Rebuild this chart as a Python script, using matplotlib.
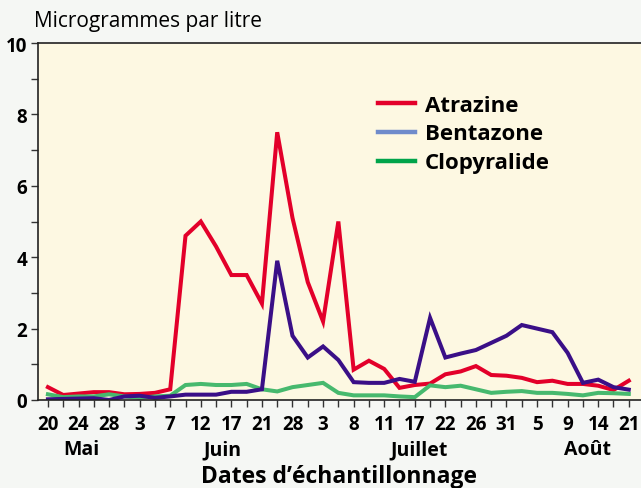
import numpy as np
import matplotlib
matplotlib.use("Agg")
import matplotlib.pyplot as plt

plt.rcParams['font.family'] = ['Open Sans', 'DejaVu Sans']

# sampling dates (one label every second sample)
day_labels = ['20', '24', '28', '3', '7', '12', '17', '21', '28', '3',
              '8', '11', '17', '22', '26', '31', '5', '9', '14', '21']
months = ['Mai', 'Juin', 'Juillet', 'Août']
month_pos = [2.2, 11.4, 24.3, 35.3]

atrazine = [0.36, 0.14, 0.18, 0.22, 0.22, 0.16, 0.17, 0.20, 0.30, 4.6,
            5.0, 4.3, 3.5, 3.5, 2.7, 7.5, 5.1, 3.3, 2.2, 5.0,
            0.85, 1.1, 0.87, 0.34, 0.42, 0.46, 0.72, 0.8, 0.95, 0.7,
            0.68, 0.62, 0.5, 0.54, 0.45, 0.45, 0.4, 0.28, 0.54]
bentazone = [0.02, 0.03, 0.04, 0.05, 0.0, 0.1, 0.12, 0.06, 0.1, 0.15,
             0.15, 0.15, 0.23, 0.23, 0.3, 3.9, 1.8, 1.19, 1.5, 1.12,
             0.5, 0.48, 0.48, 0.59, 0.51, 2.3, 1.19, 1.3, 1.4, 1.6,
             1.8, 2.1, 2.0, 1.9, 1.32, 0.48, 0.57, 0.36, 0.29]
clopyralide = [0.16, 0.08, 0.1, 0.1, 0.16, 0.1, 0.06, 0.1, 0.12, 0.42,
               0.45, 0.42, 0.42, 0.45, 0.3, 0.24, 0.36, 0.42, 0.48, 0.2,
               0.13, 0.13, 0.13, 0.1, 0.08, 0.41, 0.36, 0.4, 0.3, 0.2,
               0.23, 0.25, 0.2, 0.2, 0.17, 0.13, 0.2, 0.19, 0.17]

x = np.arange(len(atrazine))

fig = plt.figure(figsize=(6.41, 4.89), dpi=100, facecolor='#f5f7f4')
ax = fig.add_axes([38/641, 88/489, 603/641, 357/489])
ax.set_facecolor('#fdf8e2')

ax.plot(x, atrazine, color='#e3002a', lw=2.9, solid_joinstyle='miter')
ax.plot(x, clopyralide, color='#47b96e', lw=2.9, solid_joinstyle='miter')
ax.plot(x, bentazone, color='#3a0f87', lw=2.9, solid_joinstyle='miter')

ax.set_xlim(-0.65, 38.8)
ax.set_ylim(0, 10)

ax.spines['right'].set_visible(False)
for s in ['left', 'bottom', 'top']:
    ax.spines[s].set_linewidth(1.2)
    ax.spines[s].set_color('#222222')

ax.set_xticks(x[::2])
ax.set_xticklabels(day_labels, fontsize=13.5, fontweight='bold')
ax.set_xticks(x[1::2], minor=True)
ax.set_yticks([0, 2, 4, 6, 8, 10])
ax.set_yticklabels(['0', '2', '4', '6', '8', '10'], fontsize=13.5, fontweight='bold')
ax.set_yticks([1, 3, 5, 7, 9], minor=True)
ax.tick_params(axis='both', which='both', direction='out', length=5, width=1, color='#333333')
ax.tick_params(axis='x', which='both', pad=5)
ax.tick_params(axis='y', which='both', pad=3)

for m, p in zip(months, month_pos):
    ax.text(p, -1.38, m, ha='center', va='center', fontsize=14, fontweight='bold')

fig.text(339/641, 1 - 477/489, 'Dates d\u2019échantillonnage', ha='center', va='center',
         fontsize=16.5, fontweight='bold')
fig.text(34/641, 1 - 21/489, 'Microgrammes par litre', ha='left', va='center', fontsize=15)

# legend drawn by hand to match the original's colours
leg_names = ['Atrazine', 'Bentazone', 'Clopyralide']
leg_colors = ['#e3002a', '#6f8bcb', '#00a44a']
for k, (n, c) in enumerate(zip(leg_names, leg_colors)):
    yy = 1 - (104 + 29 * k) / 489
    fig.add_artist(plt.Line2D([378/641, 415/641], [yy, yy], color=c, lw=3.2))
    fig.text(425/641, yy - 2/489, n, ha='left', va='center', fontsize=16, fontweight='bold')

fig.savefig('out.png', dpi=100, facecolor=fig.get_facecolor())
